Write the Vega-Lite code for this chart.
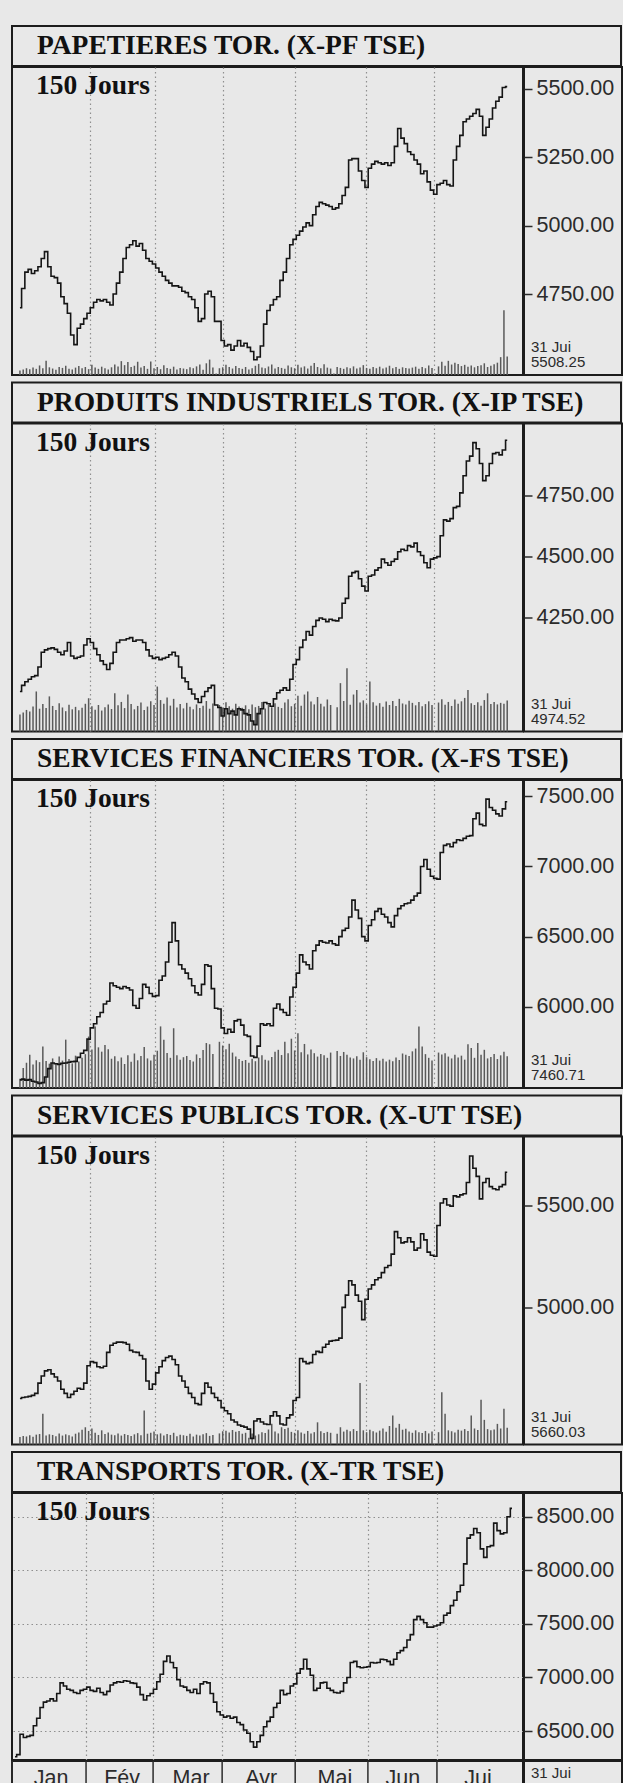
{
"$schema": "https://vega.github.io/schema/vega-lite/v6.json",
"background": "#e8e8e8",
"padding": {"left": 10, "top": 25, "right": 0, "bottom": 0},
"spacing": 5.5,
"config": {
 "view": {"stroke": "#1c1c1c", "strokeWidth": 2},
 "axis": {"labelFont": "Liberation Sans", "labelFontSize": 21.5, "labelColor": "#2b2b2b", "tickColor": "#2b2b2b", "tickWidth": 1.5, "domain": false, "grid": true, "gridDash": [1.5, 3], "gridColor": "#8f8f8f", "gridWidth": 1.2, "title": null, "minExtent": 0}
},
"datasets": {
"one": [{"k": 1}],
"months": [{"m":"Jan","mid":10.8,"start":-0.9},{"m":"Fév","mid":32.1,"start":21.3},{"m":"Mar","mid":52.8,"start":41.4},{"m":"Avr","mid":73.8,"start":62.1},{"m":"Mai","mid":95.9,"start":84},{"m":"Jun","mid":116.3,"start":105.8},{"m":"Jui","mid":138.8,"start":126.5}],
"pf": [{"d":0,"c":4700,"v":1.5},{"d":1,"c":4770,"v":1.8},{"d":2,"c":4830,"v":2.2},{"d":3,"c":4840,"v":1.9},{"d":4,"c":4825,"v":2.4},{"d":5,"c":4835,"v":2.0},{"d":6,"c":4850,"v":3.1},{"d":7,"c":4880,"v":2.2},{"d":8,"c":4905,"v":4.6},{"d":9,"c":4850,"v":2.5},
{"d":10,"c":4815,"v":2.1},{"d":11,"c":4810,"v":1.7},{"d":12,"c":4790,"v":2.6},{"d":13,"c":4740,"v":2.3},{"d":14,"c":4715,"v":3.0},{"d":15,"c":4680,"v":2.0},{"d":16,"c":4600,"v":1.8},{"d":17,"c":4565,"v":2.4},{"d":18,"c":4625,"v":2.9},{"d":19,"c":4640,"v":2.2},
{"d":20,"c":4660,"v":2.6},{"d":21,"c":4680,"v":1.9},{"d":22,"c":4700,"v":3.3},{"d":23,"c":4720,"v":2.4},{"d":24,"c":4730,"v":2.0},{"d":25,"c":4725,"v":2.7},{"d":26,"c":4730,"v":2.2},{"d":27,"c":4720,"v":1.8},{"d":28,"c":4710,"v":2.5},{"d":29,"c":4750,"v":3.4},
{"d":30,"c":4790,"v":2.8},{"d":31,"c":4830,"v":4.5},{"d":32,"c":4880,"v":3.2},{"d":33,"c":4920,"v":4.2},{"d":34,"c":4930,"v":2.6},{"d":35,"c":4945,"v":3.0},{"d":36,"c":4925,"v":4.3},{"d":37,"c":4935,"v":2.4},{"d":38,"c":4910,"v":2.9},{"d":39,"c":4880,"v":2.0},
{"d":40,"c":4870,"v":4.4},{"d":41,"c":4860,"v":2.2},{"d":42,"c":4845,"v":2.6},{"d":43,"c":4830,"v":1.9},{"d":44,"c":4815,"v":3.2},{"d":45,"c":4800,"v":2.3},{"d":46,"c":4790,"v":2.0},{"d":47,"c":4780,"v":2.7},{"d":48,"c":4780,"v":1.8},{"d":49,"c":4775,"v":2.3},
{"d":50,"c":4760,"v":2.1},{"d":51,"c":4755,"v":1.9},{"d":52,"c":4740,"v":2.5},{"d":53,"c":4730,"v":2.2},{"d":54,"c":4700,"v":2.8},{"d":55,"c":4650,"v":3.4},{"d":56,"c":4660,"v":1.7},{"d":57,"c":4750,"v":3.8},{"d":58,"c":4760,"v":5.0},{"d":59,"c":4740,"v":2.4},
{"d":60,"c":4650,"v":0.5},{"d":61,"c":4650,"v":2.2},{"d":62,"c":4580,"v":2.5},{"d":63,"c":4560,"v":3.3},{"d":64,"c":4565,"v":2.6},{"d":65,"c":4545,"v":2.1},{"d":66,"c":4560,"v":2.9},{"d":67,"c":4580,"v":2.3},{"d":68,"c":4560,"v":2.0},{"d":69,"c":4570,"v":2.6},
{"d":70,"c":4555,"v":1.8},{"d":71,"c":4540,"v":2.2},{"d":72,"c":4510,"v":3.0},{"d":73,"c":4520,"v":3.6},{"d":74,"c":4560,"v":2.4},{"d":75,"c":4640,"v":2.2},{"d":76,"c":4690,"v":2.8},{"d":77,"c":4710,"v":3.4},{"d":78,"c":4730,"v":2.1},{"d":79,"c":4740,"v":2.6},
{"d":80,"c":4800,"v":2.3},{"d":81,"c":4830,"v":2.0},{"d":82,"c":4880,"v":3.1},{"d":83,"c":4930,"v":2.5},{"d":84,"c":4950,"v":2.2},{"d":85,"c":4965,"v":3.3},{"d":86,"c":4980,"v":2.4},{"d":87,"c":4995,"v":2.8},{"d":88,"c":5010,"v":2.1},{"d":89,"c":5000,"v":3.0},
{"d":90,"c":5040,"v":3.9},{"d":91,"c":5070,"v":2.6},{"d":92,"c":5085,"v":2.2},{"d":93,"c":5080,"v":3.5},{"d":94,"c":5075,"v":2.4},{"d":95,"c":5070,"v":2.1},{"d":96,"c":5060,"v":0.5},{"d":97,"c":5065,"v":2.6},{"d":98,"c":5080,"v":2.3},{"d":99,"c":5110,"v":2.0},
{"d":100,"c":5140,"v":2.5},{"d":101,"c":5240,"v":2.2},{"d":102,"c":5245,"v":2.8},{"d":103,"c":5245,"v":2.1},{"d":104,"c":5200,"v":2.4},{"d":105,"c":5165,"v":3.2},{"d":106,"c":5140,"v":2.3},{"d":107,"c":5210,"v":2.0},{"d":108,"c":5225,"v":2.6},{"d":109,"c":5235,"v":2.2},
{"d":110,"c":5230,"v":2.7},{"d":111,"c":5225,"v":2.1},{"d":112,"c":5230,"v":2.4},{"d":113,"c":5220,"v":3.0},{"d":114,"c":5230,"v":2.2},{"d":115,"c":5290,"v":2.6},{"d":116,"c":5355,"v":2.0},{"d":117,"c":5320,"v":2.5},{"d":118,"c":5300,"v":2.3},{"d":119,"c":5270,"v":2.1},
{"d":120,"c":5260,"v":2.4},{"d":121,"c":5240,"v":2.7},{"d":122,"c":5225,"v":2.0},{"d":123,"c":5190,"v":2.6},{"d":124,"c":5200,"v":2.2},{"d":125,"c":5160,"v":3.1},{"d":126,"c":5130,"v":2.3},{"d":127,"c":5115,"v":0.5},{"d":128,"c":5150,"v":2.8},{"d":129,"c":5155,"v":4.3},
{"d":130,"c":5165,"v":3.0},{"d":131,"c":5150,"v":4.6},{"d":132,"c":5145,"v":3.4},{"d":133,"c":5240,"v":4.0},{"d":134,"c":5290,"v":3.6},{"d":135,"c":5330,"v":2.9},{"d":136,"c":5380,"v":3.3},{"d":137,"c":5390,"v":2.7},{"d":138,"c":5400,"v":3.1},{"d":139,"c":5410,"v":2.5},
{"d":140,"c":5425,"v":2.9},{"d":141,"c":5400,"v":3.2},{"d":142,"c":5330,"v":3.8},{"d":143,"c":5360,"v":2.6},{"d":144,"c":5390,"v":3.0},{"d":145,"c":5430,"v":3.5},{"d":146,"c":5455,"v":4.0},{"d":147,"c":5470,"v":5.8},{"d":148,"c":5505,"v":21.0},{"d":149,"c":5508.25,"v":6.0}],
"ip": [{"d":0,"c":3950,"v":5.5},{"d":1,"c":3975,"v":6.2},{"d":2,"c":3990,"v":7.0},{"d":3,"c":4000,"v":6.5},{"d":4,"c":4010,"v":8.1},{"d":5,"c":4015,"v":13.0},{"d":6,"c":4050,"v":7.4},{"d":7,"c":4110,"v":8.9},{"d":8,"c":4120,"v":7.6},{"d":9,"c":4125,"v":11.4},
{"d":10,"c":4128,"v":8.3},{"d":11,"c":4122,"v":7.0},{"d":12,"c":4110,"v":9.2},{"d":13,"c":4100,"v":7.8},{"d":14,"c":4115,"v":6.6},{"d":15,"c":4150,"v":8.7},{"d":16,"c":4095,"v":7.2},{"d":17,"c":4085,"v":8.0},{"d":18,"c":4090,"v":6.9},{"d":19,"c":4095,"v":7.7},
{"d":20,"c":4140,"v":9.0},{"d":21,"c":4165,"v":10.8},{"d":22,"c":4150,"v":8.2},{"d":23,"c":4125,"v":7.1},{"d":24,"c":4100,"v":8.6},{"d":25,"c":4075,"v":6.8},{"d":26,"c":4060,"v":7.9},{"d":27,"c":4040,"v":8.8},{"d":28,"c":4065,"v":7.3},{"d":29,"c":4110,"v":12.4},
{"d":30,"c":4150,"v":8.5},{"d":31,"c":4160,"v":9.6},{"d":32,"c":4160,"v":7.6},{"d":33,"c":4165,"v":12.0},{"d":34,"c":4170,"v":8.9},{"d":35,"c":4155,"v":7.2},{"d":36,"c":4160,"v":8.3},{"d":37,"c":4160,"v":9.4},{"d":38,"c":4150,"v":7.0},{"d":39,"c":4120,"v":8.1},
{"d":40,"c":4095,"v":9.8},{"d":41,"c":4085,"v":8.6},{"d":42,"c":4090,"v":14.6},{"d":43,"c":4080,"v":10.2},{"d":44,"c":4085,"v":9.0},{"d":45,"c":4090,"v":11.0},{"d":46,"c":4100,"v":8.4},{"d":47,"c":4110,"v":10.6},{"d":48,"c":4095,"v":7.8},{"d":49,"c":4050,"v":8.9},
{"d":50,"c":4005,"v":7.5},{"d":51,"c":3990,"v":9.3},{"d":52,"c":3960,"v":8.0},{"d":53,"c":3940,"v":7.2},{"d":54,"c":3920,"v":8.8},{"d":55,"c":3905,"v":7.6},{"d":56,"c":3930,"v":8.4},{"d":57,"c":3950,"v":9.9},{"d":58,"c":3965,"v":7.4},{"d":59,"c":3975,"v":9.1},
{"d":60,"c":3895,"v":0},{"d":61,"c":3885,"v":8.6},{"d":62,"c":3850,"v":7.8},{"d":63,"c":3880,"v":9.5},{"d":64,"c":3860,"v":8.2},{"d":65,"c":3870,"v":7.4},{"d":66,"c":3855,"v":9.0},{"d":67,"c":3880,"v":8.1},{"d":68,"c":3875,"v":7.7},{"d":69,"c":3860,"v":8.5},
{"d":70,"c":3855,"v":7.2},{"d":71,"c":3830,"v":8.8},{"d":72,"c":3815,"v":7.9},{"d":73,"c":3860,"v":8.3},{"d":74,"c":3880,"v":9.6},{"d":75,"c":3905,"v":7.5},{"d":76,"c":3900,"v":8.7},{"d":77,"c":3890,"v":7.9},{"d":78,"c":3920,"v":9.2},{"d":79,"c":3945,"v":8.0},
{"d":80,"c":3955,"v":7.6},{"d":81,"c":3965,"v":9.4},{"d":82,"c":3955,"v":10.5},{"d":83,"c":4000,"v":8.2},{"d":84,"c":4060,"v":9.0},{"d":85,"c":4080,"v":11.6},{"d":86,"c":4130,"v":8.4},{"d":87,"c":4160,"v":12.0},{"d":88,"c":4195,"v":13.0},{"d":89,"c":4180,"v":9.7},
{"d":90,"c":4215,"v":8.8},{"d":91,"c":4240,"v":11.2},{"d":92,"c":4250,"v":9.0},{"d":93,"c":4245,"v":8.1},{"d":94,"c":4235,"v":10.4},{"d":95,"c":4245,"v":8.6},{"d":96,"c":4240,"v":0},{"d":97,"c":4238,"v":7.9},{"d":98,"c":4250,"v":15.7},{"d":99,"c":4310,"v":9.9},
{"d":100,"c":4330,"v":20.5},{"d":101,"c":4420,"v":8.7},{"d":102,"c":4435,"v":12.0},{"d":103,"c":4440,"v":13.5},{"d":104,"c":4410,"v":9.4},{"d":105,"c":4380,"v":10.1},{"d":106,"c":4360,"v":8.8},{"d":107,"c":4420,"v":16.2},{"d":108,"c":4425,"v":9.5},{"d":109,"c":4445,"v":8.4},
{"d":110,"c":4455,"v":9.2},{"d":111,"c":4490,"v":8.0},{"d":112,"c":4475,"v":9.7},{"d":113,"c":4465,"v":8.6},{"d":114,"c":4480,"v":9.9},{"d":115,"c":4490,"v":8.3},{"d":116,"c":4520,"v":10.6},{"d":117,"c":4530,"v":9.1},{"d":118,"c":4525,"v":8.8},{"d":119,"c":4545,"v":10.0},
{"d":120,"c":4540,"v":9.3},{"d":121,"c":4555,"v":8.5},{"d":122,"c":4520,"v":9.6},{"d":123,"c":4505,"v":8.2},{"d":124,"c":4475,"v":8.9},{"d":125,"c":4455,"v":9.8},{"d":126,"c":4490,"v":8.6},{"d":127,"c":4495,"v":0},{"d":128,"c":4500,"v":9.4},{"d":129,"c":4585,"v":10.5},
{"d":130,"c":4650,"v":8.7},{"d":131,"c":4645,"v":9.6},{"d":132,"c":4655,"v":8.3},{"d":133,"c":4700,"v":10.4},{"d":134,"c":4705,"v":9.0},{"d":135,"c":4760,"v":9.8},{"d":136,"c":4830,"v":10.9},{"d":137,"c":4890,"v":13.5},{"d":138,"c":4910,"v":9.2},{"d":139,"c":4965,"v":8.6},
{"d":140,"c":4940,"v":9.5},{"d":141,"c":4880,"v":8.4},{"d":142,"c":4810,"v":10.2},{"d":143,"c":4830,"v":12.4},{"d":144,"c":4880,"v":8.9},{"d":145,"c":4920,"v":9.6},{"d":146,"c":4925,"v":8.8},{"d":147,"c":4915,"v":9.3},{"d":148,"c":4935,"v":9.0},{"d":149,"c":4974.52,"v":10.1}],
"fs": [{"d":0,"c":5480,"v":3.0},{"d":1,"c":5485,"v":6.5},{"d":2,"c":5478,"v":8.2},{"d":3,"c":5482,"v":10.8},{"d":4,"c":5470,"v":7.6},{"d":5,"c":5465,"v":9.0},{"d":6,"c":5455,"v":8.4},{"d":7,"c":5460,"v":13.5},{"d":8,"c":5500,"v":8.8},{"d":9,"c":5560,"v":7.9},
{"d":10,"c":5600,"v":9.6},{"d":11,"c":5595,"v":8.1},{"d":12,"c":5590,"v":10.2},{"d":13,"c":5598,"v":8.9},{"d":14,"c":5600,"v":15.7},{"d":15,"c":5605,"v":9.4},{"d":16,"c":5610,"v":8.0},{"d":17,"c":5612,"v":10.5},{"d":18,"c":5640,"v":8.6},{"d":19,"c":5670,"v":9.8},
{"d":20,"c":5690,"v":11.0},{"d":21,"c":5770,"v":16.7},{"d":22,"c":5850,"v":12.5},{"d":23,"c":5880,"v":20.0},{"d":24,"c":5930,"v":13.2},{"d":25,"c":5960,"v":11.8},{"d":26,"c":6020,"v":14.0},{"d":27,"c":6040,"v":12.6},{"d":28,"c":6170,"v":9.5},{"d":29,"c":6150,"v":10.3},
{"d":30,"c":6140,"v":8.7},{"d":31,"c":6130,"v":9.9},{"d":32,"c":6145,"v":7.8},{"d":33,"c":6135,"v":10.6},{"d":34,"c":6120,"v":8.5},{"d":35,"c":6010,"v":11.2},{"d":36,"c":5990,"v":9.0},{"d":37,"c":6060,"v":10.4},{"d":38,"c":6160,"v":13.3},{"d":39,"c":6140,"v":9.6},
{"d":40,"c":6095,"v":8.9},{"d":41,"c":6075,"v":10.8},{"d":42,"c":6080,"v":12.1},{"d":43,"c":6190,"v":20.0},{"d":44,"c":6220,"v":15.7},{"d":45,"c":6320,"v":11.4},{"d":46,"c":6460,"v":9.8},{"d":47,"c":6600,"v":19.4},{"d":48,"c":6470,"v":10.6},{"d":49,"c":6300,"v":9.2},
{"d":50,"c":6270,"v":10.0},{"d":51,"c":6240,"v":10.4},{"d":52,"c":6200,"v":9.1},{"d":53,"c":6150,"v":8.6},{"d":54,"c":6100,"v":10.9},{"d":55,"c":6085,"v":9.7},{"d":56,"c":6160,"v":12.3},{"d":57,"c":6300,"v":14.6},{"d":58,"c":6290,"v":14.2},{"d":59,"c":6130,"v":11.0},
{"d":60,"c":5990,"v":0},{"d":61,"c":5985,"v":15.0},{"d":62,"c":5850,"v":13.8},{"d":63,"c":5810,"v":12.6},{"d":64,"c":5840,"v":14.4},{"d":65,"c":5820,"v":11.5},{"d":66,"c":5900,"v":10.2},{"d":67,"c":5910,"v":9.4},{"d":68,"c":5870,"v":8.8},{"d":69,"c":5800,"v":9.1},
{"d":70,"c":5790,"v":8.2},{"d":71,"c":5650,"v":9.5},{"d":72,"c":5640,"v":8.7},{"d":73,"c":5720,"v":9.9},{"d":74,"c":5880,"v":10.6},{"d":75,"c":5870,"v":9.2},{"d":76,"c":5880,"v":8.9},{"d":77,"c":5865,"v":10.1},{"d":78,"c":5990,"v":11.8},{"d":79,"c":6020,"v":12.4},
{"d":80,"c":5980,"v":10.7},{"d":81,"c":5960,"v":15.0},{"d":82,"c":5940,"v":11.3},{"d":83,"c":6070,"v":16.0},{"d":84,"c":6140,"v":12.2},{"d":85,"c":6240,"v":17.8},{"d":86,"c":6370,"v":11.6},{"d":87,"c":6320,"v":14.3},{"d":88,"c":6300,"v":10.9},{"d":89,"c":6270,"v":12.5},
{"d":90,"c":6400,"v":11.3},{"d":91,"c":6440,"v":10.2},{"d":92,"c":6470,"v":11.0},{"d":93,"c":6460,"v":10.6},{"d":94,"c":6455,"v":9.8},{"d":95,"c":6470,"v":11.5},{"d":96,"c":6450,"v":0},{"d":97,"c":6440,"v":12.0},{"d":98,"c":6500,"v":10.4},{"d":99,"c":6545,"v":11.7},
{"d":100,"c":6560,"v":10.8},{"d":101,"c":6640,"v":9.9},{"d":102,"c":6760,"v":9.6},{"d":103,"c":6690,"v":10.3},{"d":104,"c":6630,"v":9.2},{"d":105,"c":6500,"v":11.6},{"d":106,"c":6470,"v":10.0},{"d":107,"c":6580,"v":9.3},{"d":108,"c":6620,"v":8.8},{"d":109,"c":6680,"v":9.7},
{"d":110,"c":6700,"v":8.9},{"d":111,"c":6660,"v":9.5},{"d":112,"c":6640,"v":8.6},{"d":113,"c":6600,"v":9.2},{"d":114,"c":6570,"v":8.7},{"d":115,"c":6650,"v":9.9},{"d":116,"c":6700,"v":9.1},{"d":117,"c":6720,"v":11.2},{"d":118,"c":6735,"v":10.8},{"d":119,"c":6740,"v":10.4},
{"d":120,"c":6760,"v":11.9},{"d":121,"c":6790,"v":12.8},{"d":122,"c":6810,"v":20.0},{"d":123,"c":7000,"v":13.5},{"d":124,"c":7050,"v":11.0},{"d":125,"c":6980,"v":9.8},{"d":126,"c":6930,"v":8.9},{"d":127,"c":6915,"v":0},{"d":128,"c":6910,"v":11.5},{"d":129,"c":7100,"v":10.9},
{"d":130,"c":7150,"v":11.3},{"d":131,"c":7160,"v":10.2},{"d":132,"c":7140,"v":9.6},{"d":133,"c":7170,"v":10.8},{"d":134,"c":7190,"v":9.9},{"d":135,"c":7185,"v":10.5},{"d":136,"c":7200,"v":9.2},{"d":137,"c":7215,"v":14.2},{"d":138,"c":7220,"v":13.0},{"d":139,"c":7340,"v":9.8},
{"d":140,"c":7380,"v":14.6},{"d":141,"c":7300,"v":10.8},{"d":142,"c":7290,"v":12.4},{"d":143,"c":7480,"v":9.6},{"d":144,"c":7420,"v":10.1},{"d":145,"c":7400,"v":11.0},{"d":146,"c":7375,"v":9.4},{"d":147,"c":7360,"v":10.6},{"d":148,"c":7410,"v":11.8},{"d":149,"c":7460.71,"v":10.3}],
"ut": [{"d":0,"c":4555,"v":2.4},{"d":1,"c":4560,"v":2.8},{"d":2,"c":4562,"v":2.6},{"d":3,"c":4565,"v":3.0},{"d":4,"c":4570,"v":2.5},{"d":5,"c":4580,"v":3.2},{"d":6,"c":4630,"v":3.4},{"d":7,"c":4665,"v":10.0},{"d":8,"c":4690,"v":2.9},{"d":9,"c":4695,"v":3.3},
{"d":10,"c":4675,"v":3.1},{"d":11,"c":4660,"v":2.7},{"d":12,"c":4640,"v":3.6},{"d":13,"c":4600,"v":2.9},{"d":14,"c":4580,"v":3.3},{"d":15,"c":4560,"v":3.0},{"d":16,"c":4575,"v":2.6},{"d":17,"c":4590,"v":3.5},{"d":18,"c":4605,"v":3.9},{"d":19,"c":4600,"v":4.8},
{"d":20,"c":4630,"v":5.6},{"d":21,"c":4715,"v":4.4},{"d":22,"c":4735,"v":5.2},{"d":23,"c":4730,"v":3.8},{"d":24,"c":4710,"v":3.1},{"d":25,"c":4705,"v":4.6},{"d":26,"c":4712,"v":3.4},{"d":27,"c":4780,"v":3.9},{"d":28,"c":4815,"v":3.2},{"d":29,"c":4825,"v":3.0},
{"d":30,"c":4830,"v":3.6},{"d":31,"c":4830,"v":2.9},{"d":32,"c":4828,"v":3.4},{"d":33,"c":4820,"v":3.1},{"d":34,"c":4790,"v":2.8},{"d":35,"c":4782,"v":3.3},{"d":36,"c":4780,"v":3.7},{"d":37,"c":4765,"v":3.0},{"d":38,"c":4748,"v":11.0},{"d":39,"c":4640,"v":3.5},
{"d":40,"c":4600,"v":3.8},{"d":41,"c":4625,"v":4.2},{"d":42,"c":4680,"v":3.3},{"d":43,"c":4710,"v":3.6},{"d":44,"c":4740,"v":2.9},{"d":45,"c":4755,"v":3.4},{"d":46,"c":4762,"v":3.1},{"d":47,"c":4745,"v":3.8},{"d":48,"c":4720,"v":2.7},{"d":49,"c":4665,"v":3.2},
{"d":50,"c":4640,"v":3.0},{"d":51,"c":4610,"v":2.8},{"d":52,"c":4580,"v":3.5},{"d":53,"c":4560,"v":2.6},{"d":54,"c":4530,"v":3.2},{"d":55,"c":4525,"v":2.9},{"d":56,"c":4580,"v":3.3},{"d":57,"c":4630,"v":3.7},{"d":58,"c":4610,"v":2.8},{"d":59,"c":4580,"v":3.1},
{"d":60,"c":4560,"v":0},{"d":61,"c":4545,"v":3.6},{"d":62,"c":4510,"v":4.3},{"d":63,"c":4495,"v":4.5},{"d":64,"c":4480,"v":3.9},{"d":65,"c":4450,"v":4.7},{"d":66,"c":4440,"v":4.1},{"d":67,"c":4425,"v":4.4},{"d":68,"c":4420,"v":3.5},{"d":69,"c":4415,"v":3.8},
{"d":70,"c":4405,"v":2.2},{"d":71,"c":4360,"v":3.6},{"d":72,"c":4445,"v":2.9},{"d":73,"c":4455,"v":3.3},{"d":74,"c":4440,"v":4.0},{"d":75,"c":4430,"v":3.7},{"d":76,"c":4428,"v":4.9},{"d":77,"c":4470,"v":6.7},{"d":78,"c":4490,"v":4.2},{"d":79,"c":4470,"v":3.6},
{"d":80,"c":4430,"v":5.6},{"d":81,"c":4425,"v":5.0},{"d":82,"c":4460,"v":5.4},{"d":83,"c":4475,"v":4.1},{"d":84,"c":4545,"v":3.8},{"d":85,"c":4560,"v":4.6},{"d":86,"c":4750,"v":3.9},{"d":87,"c":4735,"v":3.5},{"d":88,"c":4725,"v":4.4},{"d":89,"c":4730,"v":3.6},
{"d":90,"c":4770,"v":4.0},{"d":91,"c":4785,"v":7.2},{"d":92,"c":4780,"v":4.3},{"d":93,"c":4805,"v":3.7},{"d":94,"c":4820,"v":4.1},{"d":95,"c":4835,"v":3.8},{"d":96,"c":4838,"v":0},{"d":97,"c":4840,"v":3.5},{"d":98,"c":4850,"v":5.6},{"d":99,"c":5000,"v":4.2},
{"d":100,"c":5060,"v":4.8},{"d":101,"c":5130,"v":4.3},{"d":102,"c":5110,"v":5.0},{"d":103,"c":5060,"v":4.4},{"d":104,"c":5030,"v":20.0},{"d":105,"c":4940,"v":4.6},{"d":106,"c":5040,"v":4.0},{"d":107,"c":5090,"v":4.8},{"d":108,"c":5110,"v":4.3},{"d":109,"c":5135,"v":3.9},
{"d":110,"c":5145,"v":4.5},{"d":111,"c":5170,"v":5.2},{"d":112,"c":5195,"v":4.1},{"d":113,"c":5205,"v":6.0},{"d":114,"c":5260,"v":9.4},{"d":115,"c":5370,"v":5.4},{"d":116,"c":5340,"v":6.7},{"d":117,"c":5315,"v":4.8},{"d":118,"c":5320,"v":5.1},{"d":119,"c":5340,"v":4.2},
{"d":120,"c":5320,"v":3.8},{"d":121,"c":5280,"v":4.6},{"d":122,"c":5290,"v":4.0},{"d":123,"c":5360,"v":3.7},{"d":124,"c":5330,"v":4.4},{"d":125,"c":5270,"v":3.6},{"d":126,"c":5255,"v":4.2},{"d":127,"c":5250,"v":0},{"d":128,"c":5400,"v":4.0},{"d":129,"c":5510,"v":17.0},
{"d":130,"c":5530,"v":10.0},{"d":131,"c":5500,"v":4.6},{"d":132,"c":5495,"v":4.3},{"d":133,"c":5545,"v":3.9},{"d":134,"c":5540,"v":4.8},{"d":135,"c":5550,"v":4.5},{"d":136,"c":5555,"v":5.0},{"d":137,"c":5610,"v":4.4},{"d":138,"c":5740,"v":9.4},{"d":139,"c":5680,"v":5.2},
{"d":140,"c":5640,"v":4.7},{"d":141,"c":5530,"v":14.5},{"d":142,"c":5610,"v":8.0},{"d":143,"c":5630,"v":5.0},{"d":144,"c":5590,"v":4.6},{"d":145,"c":5580,"v":4.9},{"d":146,"c":5575,"v":6.7},{"d":147,"c":5590,"v":5.2},{"d":148,"c":5600,"v":11.6},{"d":149,"c":5660.03,"v":5.4}],
"tr": [{"d":0,"c":6260},{"d":1,"c":6280},{"d":2,"c":6470},{"d":3,"c":6440},{"d":4,"c":6450},{"d":5,"c":6460},{"d":6,"c":6550},{"d":7,"c":6620},{"d":8,"c":6720},{"d":9,"c":6770},
{"d":10,"c":6780},{"d":11,"c":6800},{"d":12,"c":6780},{"d":13,"c":6850},{"d":14,"c":6950},{"d":15,"c":6920},{"d":16,"c":6890},{"d":17,"c":6880},{"d":18,"c":6860},{"d":19,"c":6850},
{"d":20,"c":6880},{"d":21,"c":6890},{"d":22,"c":6910},{"d":23,"c":6880},{"d":24,"c":6870},{"d":25,"c":6900},{"d":26,"c":6860},{"d":27,"c":6840},{"d":28,"c":6870},{"d":29,"c":6930},
{"d":30,"c":6950},{"d":31,"c":6960},{"d":32,"c":6955},{"d":33,"c":6970},{"d":34,"c":6965},{"d":35,"c":6950},{"d":36,"c":6945},{"d":37,"c":6910},{"d":38,"c":6840},{"d":39,"c":6790},
{"d":40,"c":6830},{"d":41,"c":6850},{"d":42,"c":6890},{"d":43,"c":6960},{"d":44,"c":7030},{"d":45,"c":7150},{"d":46,"c":7200},{"d":47,"c":7140},{"d":48,"c":7090},{"d":49,"c":6980},
{"d":50,"c":6920},{"d":51,"c":6910},{"d":52,"c":6880},{"d":53,"c":6860},{"d":54,"c":6890},{"d":55,"c":6850},{"d":56,"c":6940},{"d":57,"c":6960},{"d":58,"c":6950},{"d":59,"c":6850},
{"d":60,"c":6770},{"d":61,"c":6680},{"d":62,"c":6650},{"d":63,"c":6630},{"d":64,"c":6640},{"d":65,"c":6620},{"d":66,"c":6630},{"d":67,"c":6580},{"d":68,"c":6560},{"d":69,"c":6510},
{"d":70,"c":6480},{"d":71,"c":6400},{"d":72,"c":6350},{"d":73,"c":6400},{"d":74,"c":6460},{"d":75,"c":6540},{"d":76,"c":6590},{"d":77,"c":6630},{"d":78,"c":6720},{"d":79,"c":6760},
{"d":80,"c":6880},{"d":81,"c":6840},{"d":82,"c":6850},{"d":83,"c":6920},{"d":84,"c":6940},{"d":85,"c":7040},{"d":86,"c":7080},{"d":87,"c":7170},{"d":88,"c":7080},{"d":89,"c":7020},
{"d":90,"c":6880},{"d":91,"c":6900},{"d":92,"c":6950},{"d":93,"c":6955},{"d":94,"c":6900},{"d":95,"c":6880},{"d":96,"c":6860},{"d":97,"c":6855},{"d":98,"c":6870},{"d":99,"c":6950},
{"d":100,"c":7000},{"d":101,"c":7140},{"d":102,"c":7150},{"d":103,"c":7100},{"d":104,"c":7090},{"d":105,"c":7095},{"d":106,"c":7100},{"d":107,"c":7140},{"d":108,"c":7135},{"d":109,"c":7140},
{"d":110,"c":7170},{"d":111,"c":7165},{"d":112,"c":7150},{"d":113,"c":7120},{"d":114,"c":7170},{"d":115,"c":7230},{"d":116,"c":7250},{"d":117,"c":7280},{"d":118,"c":7350},{"d":119,"c":7400},
{"d":120,"c":7540},{"d":121,"c":7570},{"d":122,"c":7540},{"d":123,"c":7510},{"d":124,"c":7470},{"d":125,"c":7470},{"d":126,"c":7480},{"d":127,"c":7490},{"d":128,"c":7510},{"d":129,"c":7580},
{"d":130,"c":7600},{"d":131,"c":7670},{"d":132,"c":7720},{"d":133,"c":7800},{"d":134,"c":7860},{"d":135,"c":8060},{"d":136,"c":8300},{"d":137,"c":8330},{"d":138,"c":8390},{"d":139,"c":8350},
{"d":140,"c":8200},{"d":141,"c":8120},{"d":142,"c":8220},{"d":143,"c":8230},{"d":144,"c":8440},{"d":145,"c":8370},{"d":146,"c":8340},{"d":147,"c":8350},{"d":148,"c":8500},{"d":149,"c":8577.45}]
},
"vconcat": [
{"vconcat": [
  {"width": 609, "height": 40, "data": {"name": "one"}, "mark": {"type": "point", "opacity": 0}, "encoding": {"x": {"field": "k", "type": "quantitative", "axis": null}},
   "title": {"text": "PAPETIERES TOR. (X-PF TSE)", "anchor": "start", "frame": "group", "orient": "top", "offset": -55.5, "dx": 25, "baseline": "alphabetic", "font": "Liberation Serif", "fontSize": 27.5, "fontWeight": "bold", "color": "#111111"}},
  {"hconcat": [
    {"width": 511, "height": 308, "data": {"name": "pf"},
     "title": {"text": "150 Jours", "anchor": "start", "frame": "group", "orient": "top", "offset": -54.5, "dx": 24, "baseline": "alphabetic", "font": "Liberation Serif", "fontSize": 27.5, "fontWeight": "bold", "color": "#111111"},
     "encoding": {"x": {"field": "d", "type": "quantitative", "scale": {"domain": [-0.9, 152.3], "nice": false, "zero": false}, "axis": {"values": [21.3, 41.4, 62.1, 84, 105.8, 126.5], "labels": false, "ticks": false}}},
     "layer": [
      {"mark": {"type": "bar", "width": 1.5, "color": "#5a5a5a"}, "encoding": {"y": {"field": "v", "type": "quantitative", "scale": {"domain": [0, 100]}, "axis": null}}},
      {"mark": {"type": "line", "interpolate": "step", "color": "#151515", "strokeWidth": 1.6}, "encoding": {"y": {"field": "c", "type": "quantitative", "scale": {"domain": [4454, 5580], "zero": false, "nice": false}, "axis": {"orient": "right", "values": [4750, 5000, 5250, 5500], "labels": false, "ticks": false}}}}
     ],
     "resolve": {"scale": {"y": "independent"}}},
    {"width": 98, "height": 308, "data": {"name": "pf"}, "mark": {"type": "point", "opacity": 0},
     "encoding": {"y": {"field": "c", "type": "quantitative", "scale": {"domain": [4454, 5580], "zero": false, "nice": false}, "axis": {"orient": "left", "values": [4750, 5000, 5250, 5500], "format": ".2f", "grid": false, "tickSize": -8, "labelPadding": -4, "labelAlign": "left"}}},
     "title": {"text": ["31 Jui", "\u00a05508.25"], "anchor": "start", "frame": "group", "orient": "bottom", "offset": -23, "dx": 7, "baseline": "alphabetic", "lineHeight": 15, "font": "Liberation Sans", "fontSize": 15, "fontWeight": "normal", "color": "#2b2b2b"}}
  ], "spacing": -2}
], "spacing": -2},
{"vconcat": [
  {"width": 609, "height": 40, "data": {"name": "one"}, "mark": {"type": "point", "opacity": 0}, "encoding": {"x": {"field": "k", "type": "quantitative", "axis": null}},
   "title": {"text": "PRODUITS INDUSTRIELS TOR. (X-IP TSE)", "anchor": "start", "frame": "group", "orient": "top", "offset": -55.5, "dx": 25, "baseline": "alphabetic", "font": "Liberation Serif", "fontSize": 27.5, "fontWeight": "bold", "color": "#111111"}},
  {"hconcat": [
    {"width": 511, "height": 308, "data": {"name": "ip"},
     "title": {"text": "150 Jours", "anchor": "start", "frame": "group", "orient": "top", "offset": -54.5, "dx": 24, "baseline": "alphabetic", "font": "Liberation Serif", "fontSize": 27.5, "fontWeight": "bold", "color": "#111111"},
     "encoding": {"x": {"field": "d", "type": "quantitative", "scale": {"domain": [-0.9, 152.3], "nice": false, "zero": false}, "axis": {"values": [21.3, 41.4, 62.1, 84, 105.8, 126.5], "labels": false, "ticks": false}}},
     "layer": [
      {"mark": {"type": "bar", "width": 1.5, "color": "#5a5a5a"}, "encoding": {"y": {"field": "v", "type": "quantitative", "scale": {"domain": [0, 100]}, "axis": null}}},
      {"mark": {"type": "line", "interpolate": "step", "color": "#151515", "strokeWidth": 1.6}, "encoding": {"y": {"field": "c", "type": "quantitative", "scale": {"domain": [3787, 5043], "zero": false, "nice": false}, "axis": {"orient": "right", "values": [4250, 4500, 4750], "labels": false, "ticks": false}}}}
     ],
     "resolve": {"scale": {"y": "independent"}}},
    {"width": 98, "height": 308, "data": {"name": "ip"}, "mark": {"type": "point", "opacity": 0},
     "encoding": {"y": {"field": "c", "type": "quantitative", "scale": {"domain": [3787, 5043], "zero": false, "nice": false}, "axis": {"orient": "left", "values": [4250, 4500, 4750], "format": ".2f", "grid": false, "tickSize": -8, "labelPadding": -4, "labelAlign": "left"}}},
     "title": {"text": ["31 Jui", "\u00a04974.52"], "anchor": "start", "frame": "group", "orient": "bottom", "offset": -23, "dx": 7, "baseline": "alphabetic", "lineHeight": 15, "font": "Liberation Sans", "fontSize": 15, "fontWeight": "normal", "color": "#2b2b2b"}}
  ], "spacing": -2}
], "spacing": -2},
{"vconcat": [
  {"width": 609, "height": 40, "data": {"name": "one"}, "mark": {"type": "point", "opacity": 0}, "encoding": {"x": {"field": "k", "type": "quantitative", "axis": null}},
   "title": {"text": "SERVICES FINANCIERS TOR. (X-FS TSE)", "anchor": "start", "frame": "group", "orient": "top", "offset": -55.5, "dx": 25, "baseline": "alphabetic", "font": "Liberation Serif", "fontSize": 27.5, "fontWeight": "bold", "color": "#111111"}},
  {"hconcat": [
    {"width": 511, "height": 308, "data": {"name": "fs"},
     "title": {"text": "150 Jours", "anchor": "start", "frame": "group", "orient": "top", "offset": -54.5, "dx": 24, "baseline": "alphabetic", "font": "Liberation Serif", "fontSize": 27.5, "fontWeight": "bold", "color": "#111111"},
     "encoding": {"x": {"field": "d", "type": "quantitative", "scale": {"domain": [-0.9, 152.3], "nice": false, "zero": false}, "axis": {"values": [21.3, 41.4, 62.1, 84, 105.8, 126.5], "labels": false, "ticks": false}}},
     "layer": [
      {"mark": {"type": "bar", "width": 1.5, "color": "#5a5a5a"}, "encoding": {"y": {"field": "v", "type": "quantitative", "scale": {"domain": [0, 100]}, "axis": null}}},
      {"mark": {"type": "line", "interpolate": "step", "color": "#151515", "strokeWidth": 1.6}, "encoding": {"y": {"field": "c", "type": "quantitative", "scale": {"domain": [5422, 7616], "zero": false, "nice": false}, "axis": {"orient": "right", "values": [6000, 6500, 7000, 7500], "labels": false, "ticks": false}}}}
     ],
     "resolve": {"scale": {"y": "independent"}}},
    {"width": 98, "height": 308, "data": {"name": "fs"}, "mark": {"type": "point", "opacity": 0},
     "encoding": {"y": {"field": "c", "type": "quantitative", "scale": {"domain": [5422, 7616], "zero": false, "nice": false}, "axis": {"orient": "left", "values": [6000, 6500, 7000, 7500], "format": ".2f", "grid": false, "tickSize": -8, "labelPadding": -4, "labelAlign": "left"}}},
     "title": {"text": ["31 Jui", "\u00a07460.71"], "anchor": "start", "frame": "group", "orient": "bottom", "offset": -23, "dx": 7, "baseline": "alphabetic", "lineHeight": 15, "font": "Liberation Sans", "fontSize": 15, "fontWeight": "normal", "color": "#2b2b2b"}}
  ], "spacing": -2}
], "spacing": -2},
{"vconcat": [
  {"width": 609, "height": 40, "data": {"name": "one"}, "mark": {"type": "point", "opacity": 0}, "encoding": {"x": {"field": "k", "type": "quantitative", "axis": null}},
   "title": {"text": "SERVICES PUBLICS TOR. (X-UT TSE)", "anchor": "start", "frame": "group", "orient": "top", "offset": -55.5, "dx": 25, "baseline": "alphabetic", "font": "Liberation Serif", "fontSize": 27.5, "fontWeight": "bold", "color": "#111111"}},
  {"hconcat": [
    {"width": 511, "height": 308, "data": {"name": "ut"},
     "title": {"text": "150 Jours", "anchor": "start", "frame": "group", "orient": "top", "offset": -54.5, "dx": 24, "baseline": "alphabetic", "font": "Liberation Serif", "fontSize": 27.5, "fontWeight": "bold", "color": "#111111"},
     "encoding": {"x": {"field": "d", "type": "quantitative", "scale": {"domain": [-0.9, 152.3], "nice": false, "zero": false}, "axis": {"values": [21.3, 41.4, 62.1, 84, 105.8, 126.5], "labels": false, "ticks": false}}},
     "layer": [
      {"mark": {"type": "bar", "width": 1.5, "color": "#5a5a5a"}, "encoding": {"y": {"field": "v", "type": "quantitative", "scale": {"domain": [0, 100]}, "axis": null}}},
      {"mark": {"type": "line", "interpolate": "step", "color": "#151515", "strokeWidth": 1.6}, "encoding": {"y": {"field": "c", "type": "quantitative", "scale": {"domain": [4330, 5835], "zero": false, "nice": false}, "axis": {"orient": "right", "values": [5000, 5500], "labels": false, "ticks": false}}}}
     ],
     "resolve": {"scale": {"y": "independent"}}},
    {"width": 98, "height": 308, "data": {"name": "ut"}, "mark": {"type": "point", "opacity": 0},
     "encoding": {"y": {"field": "c", "type": "quantitative", "scale": {"domain": [4330, 5835], "zero": false, "nice": false}, "axis": {"orient": "left", "values": [5000, 5500], "format": ".2f", "grid": false, "tickSize": -8, "labelPadding": -4, "labelAlign": "left"}}},
     "title": {"text": ["31 Jui", "\u00a05660.03"], "anchor": "start", "frame": "group", "orient": "bottom", "offset": -23, "dx": 7, "baseline": "alphabetic", "lineHeight": 15, "font": "Liberation Sans", "fontSize": 15, "fontWeight": "normal", "color": "#2b2b2b"}}
  ], "spacing": -2}
], "spacing": -2},
{"vconcat": [
  {"width": 609, "height": 40, "data": {"name": "one"}, "mark": {"type": "point", "opacity": 0}, "encoding": {"x": {"field": "k", "type": "quantitative", "axis": null}},
   "title": {"text": "TRANSPORTS TOR. (X-TR TSE)", "anchor": "start", "frame": "group", "orient": "top", "offset": -55.5, "dx": 25, "baseline": "alphabetic", "font": "Liberation Serif", "fontSize": 27.5, "fontWeight": "bold", "color": "#111111"}},
  {"hconcat": [
    {"width": 511, "height": 267, "data": {"name": "tr"},
     "title": {"text": "150 Jours", "anchor": "start", "frame": "group", "orient": "top", "offset": -54.5, "dx": 24, "baseline": "alphabetic", "font": "Liberation Serif", "fontSize": 27.5, "fontWeight": "bold", "color": "#111111"},
     "mark": {"type": "line", "interpolate": "step", "color": "#151515", "strokeWidth": 1.6},
     "encoding": {
       "x": {"field": "d", "type": "quantitative", "scale": {"domain": [-0.9, 152.3], "nice": false, "zero": false}, "axis": {"values": [21.3, 41.4, 62.1, 84, 105.8, 126.5], "labels": false, "ticks": false}},
       "y": {"field": "c", "type": "quantitative", "scale": {"domain": [6230, 8721], "zero": false, "nice": false}, "axis": {"orient": "right", "values": [6500, 7000, 7500, 8000, 8500], "labels": false, "ticks": false}}}},
    {"width": 98, "height": 267, "data": {"name": "tr"}, "mark": {"type": "point", "opacity": 0},
     "encoding": {"y": {"field": "c", "type": "quantitative", "scale": {"domain": [6230, 8721], "zero": false, "nice": false}, "axis": {"orient": "left", "values": [6500, 7000, 7500, 8000, 8500], "format": ".2f", "grid": false, "tickSize": -8, "labelPadding": -4, "labelAlign": "left"}}}}
  ], "spacing": -2},
  {"hconcat": [
    {"width": 511, "height": 36, "data": {"name": "months"},
     "layer": [
      {"mark": {"type": "rule", "color": "#2b2b2b", "strokeWidth": 1.5}, "encoding": {"x": {"field": "start", "type": "quantitative", "scale": {"domain": [-0.9, 152.3], "nice": false, "zero": false}, "axis": null}}},
      {"mark": {"type": "text", "font": "Liberation Sans", "fontSize": 21.5, "color": "#2b2b2b"}, "encoding": {"x": {"field": "mid", "type": "quantitative", "axis": null}, "text": {"field": "m"}}}
     ]},
    {"width": 98, "height": 36, "data": {"name": "one"}, "mark": {"type": "point", "opacity": 0}, "encoding": {"x": {"field": "k", "type": "quantitative", "axis": null}},
     "title": {"text": ["31 Jui", "\u00a08577.45"], "anchor": "start", "frame": "group", "orient": "top", "offset": -47, "dx": 7, "baseline": "alphabetic", "lineHeight": 15, "font": "Liberation Sans", "fontSize": 15, "fontWeight": "normal", "color": "#2b2b2b"}}
  ], "spacing": -2}
], "spacing": -2}
]
}
